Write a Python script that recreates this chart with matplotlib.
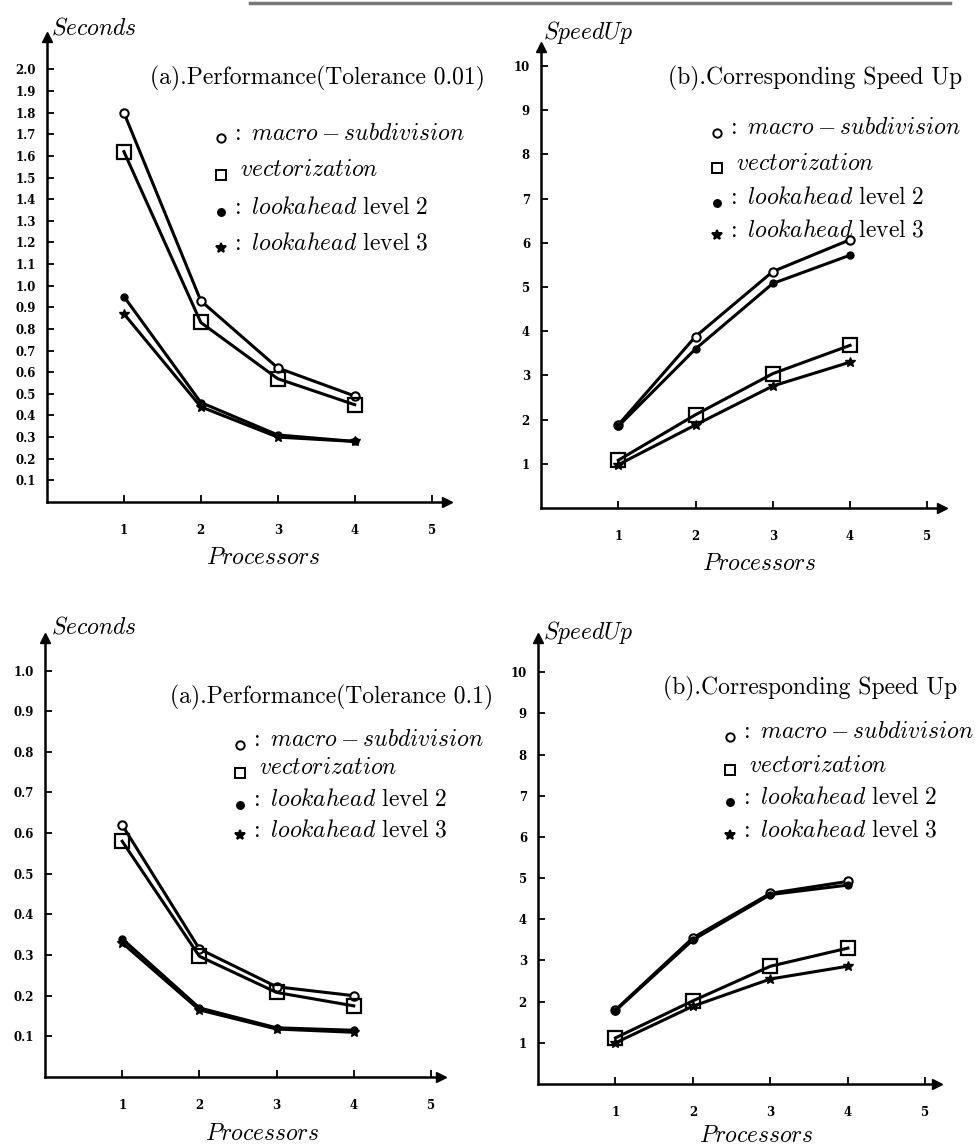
import numpy as np
import matplotlib.pyplot as plt

plt.rcParams['mathtext.fontset'] = 'cm'
plt.rcParams['font.family'] = 'DejaVu Serif'

# data
procs = [1, 2, 3, 4]

# tolerance 0.01 - timings (seconds)
t001_macro = [1.80, 0.93, 0.62, 0.49]
t001_vect = [1.62, 0.83, 0.57, 0.45]
t001_look2 = [0.95, 0.46, 0.31, 0.28]
t001_look3 = [0.87, 0.44, 0.30, 0.28]

# tolerance 0.01 - speed up
s001_macro = [1.88, 3.88, 5.35, 6.07]
s001_look2 = [1.85, 3.60, 5.08, 5.72]
s001_vect = [1.08, 2.11, 3.04, 3.68]
s001_look3 = [0.98, 1.88, 2.76, 3.30]

# tolerance 0.1 - timings (seconds)
t01_macro = [0.62, 0.315, 0.222, 0.20]
t01_vect = [0.58, 0.297, 0.208, 0.175]
t01_look2 = [0.34, 0.170, 0.121, 0.115]
t01_look3 = [0.33, 0.165, 0.118, 0.110]

# tolerance 0.1 - speed up
s01_macro = [1.80, 3.55, 4.63, 4.92]
s01_look2 = [1.78, 3.50, 4.60, 4.83]
s01_vect = [1.12, 2.02, 2.86, 3.30]
s01_look3 = [1.00, 1.89, 2.55, 2.86]

sec001_ticks = [round(0.1 * i, 1) for i in range(1, 21)]
sec01_ticks = [round(0.1 * i, 1) for i in range(1, 11)]
spd_ticks = list(range(1, 11))
x_ticks = [1, 2, 3, 4, 5]

legend_labels = [r'$\mathrm{:}\ macro - subdivision$',
                 r'$vectorization$',
                 r'$\mathrm{:}\ lookahead\ \mathrm{level\ 2}$',
                 r'$\mathrm{:}\ lookahead\ \mathrm{level\ 3}$']

W, H = 979, 1148
FS = 17
fig = plt.figure(figsize=(W / 100, H / 100), dpi=100)


def add_axes_px(left, top, right, bottom):
    return fig.add_axes([left / W, 1 - bottom / H, (right - left) / W, (bottom - top) / H])


def style_axes(ax, xlim, ylim, yticks, yfmt):
    ax.set_xlim(*xlim)
    ax.set_ylim(*ylim)
    for s in ['top', 'right']:
        ax.spines[s].set_visible(False)
    for s in ['left', 'bottom']:
        ax.spines[s].set_linewidth(1.8)
    ax.set_xticks(x_ticks)
    ax.set_xticklabels([str(v) for v in x_ticks])
    ax.set_yticks(yticks)
    ax.set_yticklabels([yfmt.format(v) for v in yticks])
    ax.tick_params(direction='in', length=5, width=1.3, labelsize=8.5)
    ax.tick_params(axis='x', pad=16)
    ax.tick_params(axis='y', pad=8)
    for lab in ax.get_xticklabels() + ax.get_yticklabels():
        lab.set_fontweight('bold')
    # arrow heads at the ends of the axes
    ax.plot(1, 0, '>k', ms=7, transform=ax.get_yaxis_transform(), clip_on=False)
    ax.plot(0, 1, '^k', ms=7, transform=ax.get_xaxis_transform(), clip_on=False)
    ax.set_facecolor('none')


def draw_series(ax, macro, vect, look2, look3):
    kw = dict(color='black', lw=2.2)
    ax.plot(procs, macro, marker='o', ms=6, mfc='white', mew=1.5, **kw)
    ax.plot(procs, vect, marker='s', ms=10, mfc='none', mew=1.6, **kw)
    ax.plot(procs, look2, marker='o', ms=5, mfc='black', **kw)
    ax.plot(procs, look3, marker='*', ms=7, mfc='black', **kw)


def draw_legend(x_marker, x_text, ys):
    markers = [('o', 6, 'white'), ('s', 7, 'white'), ('o', 5, 'black'), ('*', 7, 'black')]
    for i, ((m, ms, fc), y, lab) in enumerate(zip(markers, ys, legend_labels)):
        fig.add_artist(plt.Line2D([x_marker / W], [1 - (y + 5) / H], marker=m, ms=ms,
                                  mfc=fc, mec='black', mew=1.4, color='black',
                                  transform=fig.transFigure))
        xt = x_text + (10 if i == 1 else 0)
        fig.text(xt / W, 1 - y / H, lab, fontsize=FS, va='center', ha='left')


def title(x, y, s):
    fig.text(x / W, 1 - y / H, s, fontsize=FS, family='cmr10', va='center')


# scan edge at the top of the page
fig.add_artist(plt.Line2D([250 / W, 950 / W], [1 - 3 / H, 1 - 3 / H], color='#777777',
                          lw=2.5, transform=fig.transFigure))

# top-left: timings, tolerance 0.01
ax1 = add_axes_px(47, 37, 447, 502)
style_axes(ax1, (0, 5.2), (0, 2.15), sec001_ticks, '{:.1f}')
draw_series(ax1, t001_macro, t001_vect, t001_look2, t001_look3)
fig.text(51 / W, 1 - 28 / H, r'$Seconds$', fontsize=FS, va='center')
title(150, 78, '(a).Performance(Tolerance 0.01)')
draw_legend(221, 230, [133, 170, 207, 243])

# top-right: speed up, tolerance 0.01
ax2 = add_axes_px(541, 47, 942, 508)
style_axes(ax2, (0, 5.19), (0, 10.43), spd_ticks, '{:d}')
draw_series(ax2, s001_macro, s001_vect, s001_look2, s001_look3)
fig.text(543 / W, 1 - 33 / H, r'$SpeedUp$', fontsize=FS, va='center')
title(668, 78, '(b).Corresponding Speed Up')
draw_legend(717, 726, [128, 163, 198, 230])

# bottom-left: timings, tolerance 0.1
ax3 = add_axes_px(45, 638, 441, 1077)
style_axes(ax3, (0, 5.13), (0, 1.08), sec01_ticks, '{:.1f}')
draw_series(ax3, t01_macro, t01_vect, t01_look2, t01_look3)
fig.text(51 / W, 1 - 627 / H, r'$Seconds$', fontsize=FS, va='center')
title(170, 697, '(a).Performance(Tolerance 0.1)')
draw_legend(240, 249, [740, 768, 800, 830])

# bottom-right: speed up, tolerance 0.1
ax4 = add_axes_px(538, 638, 937, 1084)
style_axes(ax4, (0, 5.15), (0, 10.83), spd_ticks, '{:d}')
draw_series(ax4, s01_macro, s01_vect, s01_look2, s01_look3)
fig.text(543 / W, 1 - 632 / H, r'$SpeedUp$', fontsize=FS, va='center')
title(663, 688, '(b).Corresponding Speed Up')
draw_legend(730, 739, [732, 765, 797, 830])

# x axis labels
for ax_x, ax_y in [(263, 557), (759, 563), (262, 1134), (756, 1136)]:
    fig.text(ax_x / W, 1 - ax_y / H, r'$Processors$', fontsize=FS, ha='center', va='center')

fig.savefig('out.png', dpi=100)
